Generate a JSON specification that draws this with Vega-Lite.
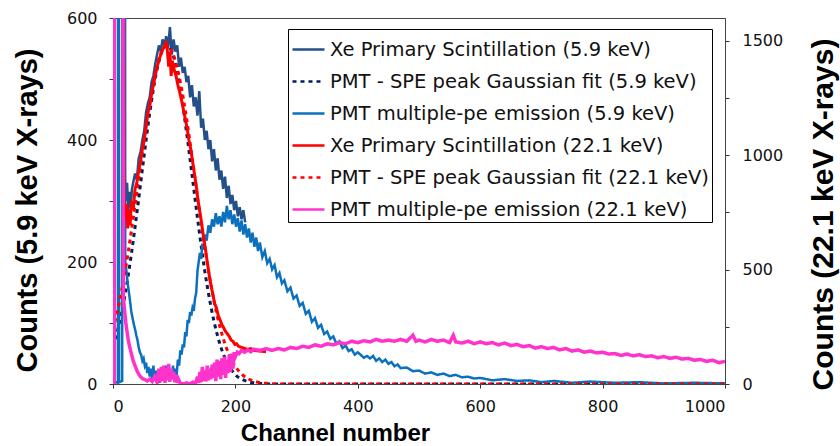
{
"$schema": "https://vega.github.io/schema/vega-lite/v6.json",
"width": 612, "height": 366,
"autosize": {"type": "none"},
"padding": {"left": 113, "top": 18, "right": 115, "bottom": 62},
"background": "white",
"config": {
  "view": {"stroke": "#444", "strokeWidth": 1},
  "axis": {"grid": false, "domainColor": "#444", "tickColor": "#333", "labelColor": "#111", "labelFont": "DejaVu Sans", "labelFontSize": 16, "titleColor": "#000", "titleFont": "Liberation Sans", "titleFontWeight": "bold"},
  "legend": {"orient": "none", "legendX": 175, "legendY": 11, "title": null, "symbolType": "stroke", "symbolSize": 1024, "symbolStrokeWidth": 2.5, "labelFont": "DejaVu Sans", "labelFontSize": 19.5, "labelColor": "#111", "labelOffset": 4, "rowPadding": 5, "padding": 3, "strokeColor": "#000", "fillColor": "white", "labelLimit": 600}
},
"datasets": {
  "n1": [
    {"c":17,"v":2000},{"c":19,"v":345},{"c":21,"v":300},{"c":23,"v":330},{"c":25,"v":285},{"c":27,"v":315},{"c":29,"v":290},{"c":31,"v":320},{"c":33,"v":330},{"c":36,"v":345},{"c":39,"v":335},{"c":42,"v":370},{"c":45,"v":380},{"c":48,"v":400},{"c":51,"v":415},{"c":54,"v":445},{"c":57,"v":460},{"c":60,"v":470},{"c":63,"v":495},{"c":66,"v":505},{"c":69,"v":525},{"c":72,"v":540},{"c":75,"v":555},{"c":78,"v":545},{"c":81,"v":565},{"c":84,"v":555},{"c":87,"v":570},{"c":90,"v":550},{"c":93,"v":585},{"c":96,"v":540},{"c":99,"v":565},{"c":102,"v":545},{"c":105,"v":555},{"c":108,"v":520},{"c":111,"v":535},{"c":114,"v":510},{"c":117,"v":520},{"c":120,"v":495},{"c":123,"v":505},{"c":126,"v":470},{"c":129,"v":490},{"c":132,"v":455},{"c":135,"v":470},{"c":138,"v":440},{"c":141,"v":480},{"c":144,"v":420},{"c":147,"v":435},{"c":150,"v":400},{"c":153,"v":415},{"c":156,"v":385},{"c":159,"v":400},{"c":162,"v":365},{"c":165,"v":385},{"c":168,"v":350},{"c":171,"v":370},{"c":174,"v":335},{"c":177,"v":350},{"c":180,"v":320},{"c":183,"v":340},{"c":186,"v":305},{"c":189,"v":325},{"c":192,"v":295},{"c":195,"v":310},{"c":198,"v":285},{"c":201,"v":300},{"c":204,"v":275},{"c":207,"v":290},{"c":210,"v":270},{"c":213,"v":285},{"c":216,"v":265}
  ],
  "n2": [
    {"c":0,"v":61},{"c":10,"v":98},{"c":20,"v":148},{"c":30,"v":213},{"c":40,"v":288},{"c":50,"v":368},{"c":60,"v":444},{"c":70,"v":506},{"c":80,"v":545},{"c":88,"v":555},{"c":95,"v":547},{"c":100,"v":533},{"c":110,"v":483},{"c":120,"v":414},{"c":130,"v":336},{"c":140,"v":257},{"c":150,"v":185},{"c":160,"v":127},{"c":170,"v":82},{"c":180,"v":50},{"c":190,"v":29},{"c":200,"v":15},{"c":210,"v":8},{"c":220,"v":4},{"c":230,"v":2},{"c":240,"v":1},{"c":260,"v":0},{"c":1000,"v":0}
  ],
  "lb": [
    {"c":0,"v":2},{"c":5,"v":3},{"c":8,"v":2},{"c":9,"v":2000},{"c":10,"v":3},{"c":15,"v":5},{"c":16,"v":2000},{"c":19,"v":2000},{"c":20,"v":200},{"c":22,"v":185},{"c":24,"v":165},{"c":26,"v":150},{"c":28,"v":135},{"c":30,"v":118},{"c":32,"v":108},{"c":34,"v":98},{"c":36,"v":90},{"c":38,"v":80},{"c":40,"v":72},{"c":42,"v":60},{"c":44,"v":52},{"c":46,"v":48},{"c":48,"v":38},{"c":50,"v":42},{"c":52,"v":30},{"c":54,"v":35},{"c":56,"v":18},{"c":58,"v":28},{"c":60,"v":12},{"c":62,"v":25},{"c":64,"v":8},{"c":66,"v":30},{"c":68,"v":5},{"c":70,"v":22},{"c":72,"v":3},{"c":74,"v":18},{"c":76,"v":2},{"c":78,"v":20},{"c":80,"v":8},{"c":82,"v":25},{"c":84,"v":5},{"c":86,"v":30},{"c":88,"v":10},{"c":90,"v":28},{"c":92,"v":4},{"c":94,"v":22},{"c":96,"v":10},{"c":98,"v":30},{"c":100,"v":6},{"c":102,"v":25},{"c":104,"v":15},{"c":106,"v":40},{"c":108,"v":30},{"c":110,"v":55},{"c":112,"v":48},{"c":114,"v":65},{"c":116,"v":60},{"c":118,"v":85},{"c":120,"v":78},{"c":122,"v":105},{"c":124,"v":100},{"c":126,"v":118},{"c":128,"v":112},{"c":130,"v":125},{"c":132,"v":120},{"c":134,"v":140},{"c":136,"v":150},{"c":138,"v":185},{"c":140,"v":200},{"c":142,"v":215},{"c":144,"v":205},{"c":146,"v":230},{"c":148,"v":220},{"c":150,"v":245},{"c":153,"v":235},{"c":156,"v":260},{"c":159,"v":248},{"c":162,"v":270},{"c":165,"v":258},{"c":168,"v":280},{"c":171,"v":262},{"c":174,"v":275},{"c":177,"v":258},{"c":180,"v":282},{"c":183,"v":265},{"c":186,"v":292},{"c":189,"v":270},{"c":192,"v":285},{"c":195,"v":262},{"c":198,"v":278},{"c":201,"v":258},{"c":204,"v":272},{"c":207,"v":250},{"c":210,"v":268},{"c":213,"v":245},{"c":216,"v":262},{"c":219,"v":240},{"c":222,"v":255},{"c":225,"v":232},{"c":228,"v":248},{"c":231,"v":225},{"c":234,"v":240},{"c":237,"v":218},{"c":240,"v":232},{"c":244,"v":208},{"c":248,"v":218},{"c":252,"v":198},{"c":256,"v":205},{"c":260,"v":188},{"c":264,"v":195},{"c":268,"v":175},{"c":272,"v":182},{"c":276,"v":165},{"c":280,"v":170},{"c":285,"v":152},{"c":290,"v":158},{"c":295,"v":140},{"c":300,"v":145},{"c":305,"v":128},{"c":310,"v":133},{"c":315,"v":115},{"c":320,"v":120},{"c":325,"v":102},{"c":330,"v":108},{"c":335,"v":92},{"c":340,"v":97},{"c":345,"v":82},{"c":350,"v":86},{"c":355,"v":74},{"c":360,"v":78},{"c":365,"v":66},{"c":370,"v":70},{"c":375,"v":59},{"c":380,"v":63},{"c":385,"v":54},{"c":390,"v":57},{"c":395,"v":48},{"c":400,"v":52},{"c":410,"v":43},{"c":415,"v":46},{"c":420,"v":42},{"c":425,"v":46},{"c":430,"v":38},{"c":435,"v":42},{"c":440,"v":36},{"c":445,"v":40},{"c":450,"v":33},{"c":455,"v":36},{"c":460,"v":29},{"c":465,"v":32},{"c":470,"v":26},{"c":480,"v":27},{"c":490,"v":21},{"c":500,"v":22},{"c":510,"v":17},{"c":520,"v":19},{"c":530,"v":15},{"c":540,"v":17},{"c":550,"v":13},{"c":560,"v":15},{"c":570,"v":11},{"c":580,"v":12},{"c":590,"v":9},{"c":600,"v":10},{"c":620,"v":6},{"c":640,"v":8},{"c":660,"v":5},{"c":680,"v":6},{"c":700,"v":3},{"c":720,"v":5},{"c":750,"v":2},{"c":780,"v":4},{"c":820,"v":2},{"c":860,"v":3},{"c":900,"v":1},{"c":950,"v":2},{"c":1000,"v":1}
  ],
  "r1": [
    {"c":15,"v":5000},{"c":18,"v":773},{"c":20,"v":720},{"c":22,"v":787},{"c":24,"v":680},{"c":26,"v":760},{"c":28,"v":693},{"c":30,"v":800},{"c":33,"v":760},{"c":36,"v":853},{"c":39,"v":880},{"c":42,"v":933},{"c":45,"v":973},{"c":48,"v":1027},{"c":51,"v":1067},{"c":54,"v":1120},{"c":57,"v":1187},{"c":60,"v":1213},{"c":63,"v":1267},{"c":66,"v":1307},{"c":69,"v":1347},{"c":72,"v":1387},{"c":75,"v":1413},{"c":78,"v":1440},{"c":81,"v":1461},{"c":84,"v":1475},{"c":87,"v":1499},{"c":89,"v":1453},{"c":91,"v":1387},{"c":93,"v":1453},{"c":95,"v":1347},{"c":97,"v":1413},{"c":100,"v":1373},{"c":103,"v":1347},{"c":106,"v":1307},{"c":109,"v":1275},{"c":112,"v":1240},{"c":115,"v":1200},{"c":118,"v":1160},{"c":121,"v":1120},{"c":124,"v":1067},{"c":127,"v":1027},{"c":130,"v":973},{"c":133,"v":920},{"c":136,"v":867},{"c":139,"v":800},{"c":142,"v":752},{"c":145,"v":699},{"c":148,"v":640},{"c":151,"v":592},{"c":154,"v":533},{"c":157,"v":480},{"c":160,"v":432},{"c":163,"v":395},{"c":166,"v":352},{"c":169,"v":333},{"c":172,"v":299},{"c":175,"v":280},{"c":178,"v":259},{"c":181,"v":245},{"c":184,"v":229},{"c":187,"v":219},{"c":190,"v":208},{"c":193,"v":192},{"c":196,"v":187},{"c":199,"v":173},{"c":202,"v":176},{"c":205,"v":165},{"c":210,"v":160},{"c":215,"v":155},{"c":220,"v":152},{"c":225,"v":155},{"c":230,"v":147},{"c":240,"v":144},{"c":250,"v":141}
  ],
  "r2": [
    {"c":0,"v":237},{"c":10,"v":352},{"c":20,"v":496},{"c":30,"v":669},{"c":40,"v":859},{"c":50,"v":1053},{"c":60,"v":1229},{"c":70,"v":1371},{"c":80,"v":1456},{"c":88,"v":1480},{"c":100,"v":1429},{"c":110,"v":1320},{"c":120,"v":1163},{"c":130,"v":976},{"c":140,"v":781},{"c":150,"v":597},{"c":160,"v":435},{"c":170,"v":301},{"c":180,"v":200},{"c":190,"v":127},{"c":200,"v":76},{"c":210,"v":44},{"c":220,"v":24},{"c":230,"v":13},{"c":240,"v":6},{"c":250,"v":3},{"c":270,"v":0},{"c":1000,"v":0}
  ],
  "mg": [
    {"c":0,"v":0},{"c":2,"v":0},{"c":3,"v":5000},{"c":15,"v":5000},{"c":17,"v":373},{"c":19,"v":320},{"c":21,"v":267},{"c":23,"v":227},{"c":25,"v":192},{"c":27,"v":165},{"c":30,"v":133},{"c":33,"v":101},{"c":36,"v":80},{"c":40,"v":53},{"c":44,"v":35},{"c":48,"v":24},{"c":52,"v":19},{"c":56,"v":13},{"c":60,"v":21},{"c":64,"v":11},{"c":68,"v":32},{"c":72,"v":8},{"c":75,"v":67},{"c":77,"v":8},{"c":79,"v":75},{"c":81,"v":13},{"c":83,"v":80},{"c":85,"v":5},{"c":87,"v":69},{"c":89,"v":16},{"c":91,"v":88},{"c":93,"v":11},{"c":95,"v":67},{"c":97,"v":21},{"c":99,"v":53},{"c":101,"v":8},{"c":103,"v":40},{"c":105,"v":5},{"c":107,"v":21},{"c":110,"v":3},{"c":115,"v":0},{"c":120,"v":5},{"c":125,"v":0},{"c":130,"v":8},{"c":135,"v":3},{"c":138,"v":32},{"c":140,"v":5},{"c":142,"v":53},{"c":144,"v":8},{"c":146,"v":75},{"c":148,"v":13},{"c":150,"v":59},{"c":152,"v":11},{"c":154,"v":80},{"c":156,"v":16},{"c":158,"v":67},{"c":160,"v":21},{"c":162,"v":85},{"c":164,"v":27},{"c":166,"v":93},{"c":168,"v":13},{"c":170,"v":107},{"c":172,"v":32},{"c":174,"v":101},{"c":176,"v":21},{"c":178,"v":112},{"c":180,"v":40},{"c":182,"v":120},{"c":184,"v":27},{"c":186,"v":107},{"c":188,"v":48},{"c":190,"v":128},{"c":192,"v":53},{"c":194,"v":133},{"c":196,"v":67},{"c":198,"v":139},{"c":200,"v":120},{"c":203,"v":139},{"c":206,"v":133},{"c":210,"v":147},{"c":215,"v":139},{"c":220,"v":149},{"c":225,"v":141},{"c":230,"v":152},{"c":240,"v":147},{"c":250,"v":155},{"c":260,"v":147},{"c":270,"v":155},{"c":280,"v":149},{"c":290,"v":160},{"c":300,"v":155},{"c":310,"v":165},{"c":320,"v":160},{"c":330,"v":171},{"c":340,"v":165},{"c":350,"v":176},{"c":360,"v":171},{"c":370,"v":181},{"c":380,"v":176},{"c":390,"v":187},{"c":400,"v":181},{"c":410,"v":189},{"c":420,"v":184},{"c":430,"v":195},{"c":440,"v":187},{"c":450,"v":192},{"c":460,"v":187},{"c":470,"v":195},{"c":480,"v":187},{"c":490,"v":213},{"c":495,"v":187},{"c":500,"v":192},{"c":510,"v":184},{"c":520,"v":195},{"c":530,"v":187},{"c":540,"v":192},{"c":550,"v":181},{"c":556,"v":213},{"c":560,"v":184},{"c":570,"v":179},{"c":580,"v":187},{"c":590,"v":176},{"c":600,"v":184},{"c":610,"v":176},{"c":620,"v":181},{"c":630,"v":171},{"c":640,"v":179},{"c":650,"v":168},{"c":660,"v":173},{"c":670,"v":163},{"c":680,"v":168},{"c":690,"v":157},{"c":700,"v":163},{"c":710,"v":155},{"c":720,"v":160},{"c":730,"v":149},{"c":740,"v":155},{"c":750,"v":144},{"c":760,"v":149},{"c":770,"v":139},{"c":780,"v":144},{"c":790,"v":136},{"c":800,"v":139},{"c":810,"v":131},{"c":820,"v":133},{"c":830,"v":125},{"c":840,"v":131},{"c":850,"v":123},{"c":860,"v":128},{"c":870,"v":120},{"c":880,"v":123},{"c":890,"v":115},{"c":900,"v":120},{"c":910,"v":112},{"c":920,"v":117},{"c":930,"v":109},{"c":940,"v":112},{"c":950,"v":104},{"c":960,"v":107},{"c":970,"v":99},{"c":980,"v":104},{"c":990,"v":93},{"c":1000,"v":99}
  ]
},
"layer": [
  {
    "encoding": {
      "x": {"field": "c", "type": "quantitative", "scale": {"domain": [0, 1000], "nice": false},
        "axis": {"orient": "bottom", "values": [0, 200, 400, 600, 800, 1000], "format": "d", "tickSize": 4, "labelPadding": 10, "title": "Channel number", "titleFontSize": 24, "titleX": 222, "titleY": 56, "titleAlign": "center", "titleBaseline": "alphabetic"}},
      "y": {"field": "v", "type": "quantitative", "scale": {"domain": [0, 600], "nice": false},
        "axis": {"orient": "left", "values": [0, 100, 200, 300, 400, 500, 600], "format": "d", "labelExpr": "datum.value % 200 == 0 ? datum.label : ''", "tickSize": 4, "labelPadding": 12, "title": "Counts (5.9 keV X-rays)", "titleFontSize": 29, "titleAngle": -90, "titleX": -86, "titleY": 192, "titleAlign": "center", "titleBaseline": "middle"}}
    },
    "layer": [
      {"data": {"name": "n1"}, "mark": {"type": "line", "clip": true, "strokeWidth": 2.5},
       "encoding": {
         "color": {"datum": "Xe Primary Scintillation (5.9 keV)", "type": "nominal",
           "scale": {"domain": ["Xe Primary Scintillation (5.9 keV)", "PMT - SPE peak Gaussian fit (5.9 keV)", "PMT multiple-pe emission (5.9 keV)", "Xe Primary Scintillation (22.1 keV)", "PMT - SPE peak Gaussian fit (22.1 keV)", "PMT multiple-pe emission (22.1 keV)"], "range": ["#24508a", "#001f5c", "#0b70bd", "#ff0000", "#ff0000", "#ff33cc"]}},
         "strokeDash": {"datum": "Xe Primary Scintillation (5.9 keV)", "type": "nominal",
           "scale": {"domain": ["Xe Primary Scintillation (5.9 keV)", "PMT - SPE peak Gaussian fit (5.9 keV)", "PMT multiple-pe emission (5.9 keV)", "Xe Primary Scintillation (22.1 keV)", "PMT - SPE peak Gaussian fit (22.1 keV)", "PMT multiple-pe emission (22.1 keV)"], "range": [[1, 0], [4, 4], [1, 0], [1, 0], [4, 4], [1, 0]]}}
       }},
      {"data": {"name": "n2"}, "mark": {"type": "line", "clip": true, "strokeWidth": 3, "interpolate": "monotone"},
       "encoding": {
         "color": {"datum": "PMT - SPE peak Gaussian fit (5.9 keV)", "type": "nominal",
           "scale": {"domain": ["Xe Primary Scintillation (5.9 keV)", "PMT - SPE peak Gaussian fit (5.9 keV)", "PMT multiple-pe emission (5.9 keV)", "Xe Primary Scintillation (22.1 keV)", "PMT - SPE peak Gaussian fit (22.1 keV)", "PMT multiple-pe emission (22.1 keV)"], "range": ["#24508a", "#001f5c", "#0b70bd", "#ff0000", "#ff0000", "#ff33cc"]}},
         "strokeDash": {"datum": "PMT - SPE peak Gaussian fit (5.9 keV)", "type": "nominal",
           "scale": {"domain": ["Xe Primary Scintillation (5.9 keV)", "PMT - SPE peak Gaussian fit (5.9 keV)", "PMT multiple-pe emission (5.9 keV)", "Xe Primary Scintillation (22.1 keV)", "PMT - SPE peak Gaussian fit (22.1 keV)", "PMT multiple-pe emission (22.1 keV)"], "range": [[1, 0], [4, 4], [1, 0], [1, 0], [4, 4], [1, 0]]}}
       }},
      {"data": {"name": "lb"}, "mark": {"type": "line", "clip": true, "strokeWidth": 2.5},
       "encoding": {
         "color": {"datum": "PMT multiple-pe emission (5.9 keV)", "type": "nominal",
           "scale": {"domain": ["Xe Primary Scintillation (5.9 keV)", "PMT - SPE peak Gaussian fit (5.9 keV)", "PMT multiple-pe emission (5.9 keV)", "Xe Primary Scintillation (22.1 keV)", "PMT - SPE peak Gaussian fit (22.1 keV)", "PMT multiple-pe emission (22.1 keV)"], "range": ["#24508a", "#001f5c", "#0b70bd", "#ff0000", "#ff0000", "#ff33cc"]}},
         "strokeDash": {"datum": "PMT multiple-pe emission (5.9 keV)", "type": "nominal",
           "scale": {"domain": ["Xe Primary Scintillation (5.9 keV)", "PMT - SPE peak Gaussian fit (5.9 keV)", "PMT multiple-pe emission (5.9 keV)", "Xe Primary Scintillation (22.1 keV)", "PMT - SPE peak Gaussian fit (22.1 keV)", "PMT multiple-pe emission (22.1 keV)"], "range": [[1, 0], [4, 4], [1, 0], [1, 0], [4, 4], [1, 0]]}}
       }}
    ]
  },
  {
    "encoding": {
      "x": {"field": "c", "type": "quantitative"},
      "y": {"field": "v", "type": "quantitative", "scale": {"domain": [0, 1600], "nice": false},
        "axis": {"orient": "right", "values": [0, 250, 500, 750, 1000, 1250, 1500], "format": "d", "labelExpr": "datum.value % 500 == 0 ? datum.label : ''", "tickSize": 4, "labelPadding": 13, "title": "Counts (22.1 keV X-rays)", "titleFontSize": 30, "titleAngle": -90, "titleX": 98, "titleY": 196, "titleAlign": "center", "titleBaseline": "middle"}}
    },
    "layer": [
      {"data": {"name": "r1"}, "mark": {"type": "line", "clip": true, "strokeWidth": 3},
       "encoding": {
         "color": {"datum": "Xe Primary Scintillation (22.1 keV)", "type": "nominal",
           "scale": {"domain": ["Xe Primary Scintillation (5.9 keV)", "PMT - SPE peak Gaussian fit (5.9 keV)", "PMT multiple-pe emission (5.9 keV)", "Xe Primary Scintillation (22.1 keV)", "PMT - SPE peak Gaussian fit (22.1 keV)", "PMT multiple-pe emission (22.1 keV)"], "range": ["#24508a", "#001f5c", "#0b70bd", "#ff0000", "#ff0000", "#ff33cc"]}},
         "strokeDash": {"datum": "Xe Primary Scintillation (22.1 keV)", "type": "nominal",
           "scale": {"domain": ["Xe Primary Scintillation (5.9 keV)", "PMT - SPE peak Gaussian fit (5.9 keV)", "PMT multiple-pe emission (5.9 keV)", "Xe Primary Scintillation (22.1 keV)", "PMT - SPE peak Gaussian fit (22.1 keV)", "PMT multiple-pe emission (22.1 keV)"], "range": [[1, 0], [4, 4], [1, 0], [1, 0], [4, 4], [1, 0]]}}
       }},
      {"data": {"name": "r2"}, "mark": {"type": "line", "clip": true, "strokeWidth": 3, "interpolate": "monotone"},
       "encoding": {
         "color": {"datum": "PMT - SPE peak Gaussian fit (22.1 keV)", "type": "nominal",
           "scale": {"domain": ["Xe Primary Scintillation (5.9 keV)", "PMT - SPE peak Gaussian fit (5.9 keV)", "PMT multiple-pe emission (5.9 keV)", "Xe Primary Scintillation (22.1 keV)", "PMT - SPE peak Gaussian fit (22.1 keV)", "PMT multiple-pe emission (22.1 keV)"], "range": ["#24508a", "#001f5c", "#0b70bd", "#ff0000", "#ff0000", "#ff33cc"]}},
         "strokeDash": {"datum": "PMT - SPE peak Gaussian fit (22.1 keV)", "type": "nominal",
           "scale": {"domain": ["Xe Primary Scintillation (5.9 keV)", "PMT - SPE peak Gaussian fit (5.9 keV)", "PMT multiple-pe emission (5.9 keV)", "Xe Primary Scintillation (22.1 keV)", "PMT - SPE peak Gaussian fit (22.1 keV)", "PMT multiple-pe emission (22.1 keV)"], "range": [[1, 0], [4, 4], [1, 0], [1, 0], [4, 4], [1, 0]]}}
       }},
      {"data": {"name": "mg"}, "mark": {"type": "line", "clip": true, "strokeWidth": 3.5},
       "encoding": {
         "color": {"datum": "PMT multiple-pe emission (22.1 keV)", "type": "nominal",
           "scale": {"domain": ["Xe Primary Scintillation (5.9 keV)", "PMT - SPE peak Gaussian fit (5.9 keV)", "PMT multiple-pe emission (5.9 keV)", "Xe Primary Scintillation (22.1 keV)", "PMT - SPE peak Gaussian fit (22.1 keV)", "PMT multiple-pe emission (22.1 keV)"], "range": ["#24508a", "#001f5c", "#0b70bd", "#ff0000", "#ff0000", "#ff33cc"]}},
         "strokeDash": {"datum": "PMT multiple-pe emission (22.1 keV)", "type": "nominal",
           "scale": {"domain": ["Xe Primary Scintillation (5.9 keV)", "PMT - SPE peak Gaussian fit (5.9 keV)", "PMT multiple-pe emission (5.9 keV)", "Xe Primary Scintillation (22.1 keV)", "PMT - SPE peak Gaussian fit (22.1 keV)", "PMT multiple-pe emission (22.1 keV)"], "range": [[1, 0], [4, 4], [1, 0], [1, 0], [4, 4], [1, 0]]}}
       }}
    ]
  }
],
"resolve": {"scale": {"y": "independent"}}
}
